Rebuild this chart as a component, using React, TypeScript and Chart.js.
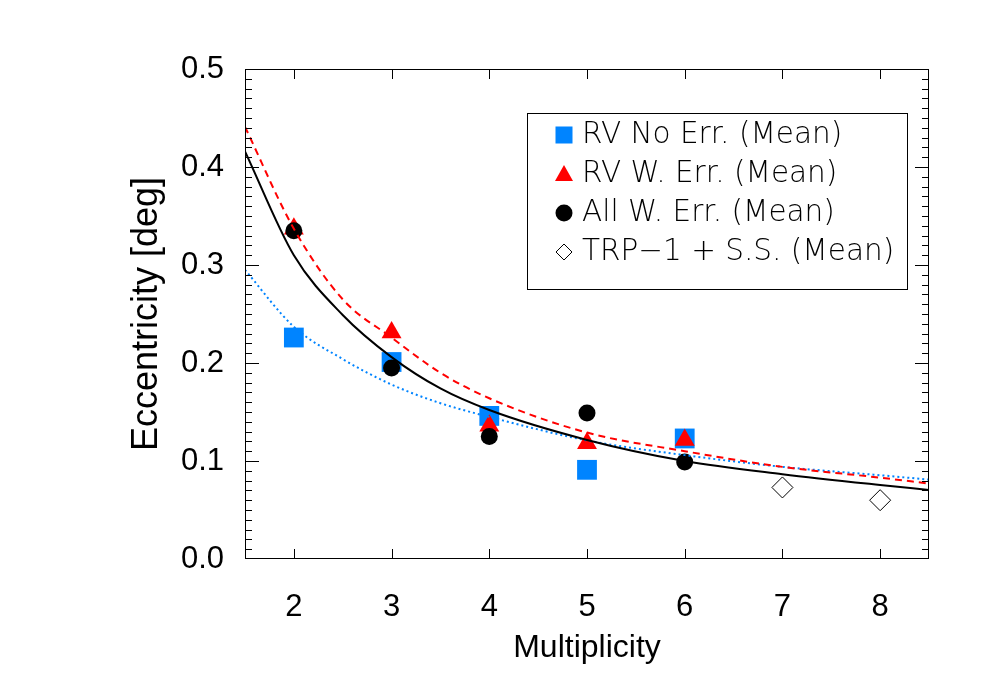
import { useEffect, useRef } from "react";
import { Chart, registerables } from "chart.js";

Chart.register(...registerables);

// multiplicity of each sample
const multiplicity = [2, 3, 4, 5, 6];
const rvNoErr = [0.226, 0.201, 0.146, 0.091, 0.123];
const rvWErr = [0.337, 0.231, 0.136, 0.118, 0.1215];
const allWErr = [0.335, 0.195, 0.125, 0.149, 0.099];

// TRP-1 + solar system
const trpMultiplicity = [7, 8];
const trpSS = [0.073, 0.06];

// fitted curves
const fitX = [1.5, 2, 2.5, 3, 3.5, 4, 5, 6, 7, 8, 8.5];
const fitAll = [0.416, 0.31, 0.249, 0.206, 0.174, 0.152, 0.1215, 0.1, 0.0865, 0.0755, 0.0705];
const fitRvErr = [0.441, 0.337, 0.265, 0.226, 0.19, 0.164, 0.129, 0.11, 0.094, 0.083, 0.077];
const fitRvNoErr = [0.295, 0.237, 0.204, 0.178, 0.159, 0.145, 0.121, 0.106, 0.094, 0.0855, 0.081];

const xTicks = [2, 3, 4, 5, 6, 7, 8];
const yTicks = [0, 0.1, 0.2, 0.3, 0.4, 0.5];
const yMinorStep = 0.01;

const legendLabels = [
  "RV No Err. (Mean)",
  "RV W. Err. (Mean)",
  "All W. Err. (Mean)",
  "TRP\u22121 + S.S. (Mean)",
];

const BLUE = "rgb(0,132,255)";
const RED = "#ff0000";

const toXY = (xs: number[], ys: number[]) => xs.map((x, i) => ({ x, y: ys[i] }));

const framePlugin = {
  id: "frameTicks",
  afterDatasetsDraw(chart: any) {
    const { ctx, chartArea: a, scales } = chart;
    const xs = scales.x;
    const ys = scales.y;
    ctx.save();
    ctx.strokeStyle = "#000";
    ctx.lineWidth = 1;
    ctx.strokeRect(a.left + 0.5, a.top + 0.5, a.right - a.left - 1, a.bottom - a.top - 1);
    ctx.beginPath();
    for (const v of xTicks) {
      const px = Math.round(xs.getPixelForValue(v)) + 0.5;
      ctx.moveTo(px, a.bottom);
      ctx.lineTo(px, a.bottom - 10);
      ctx.moveTo(px, a.top);
      ctx.lineTo(px, a.top + 10);
    }
    const n = Math.round((ys.max - ys.min) / yMinorStep);
    for (let i = 1; i < n; i++) {
      const v = ys.min + i * yMinorStep;
      const py = Math.round(ys.getPixelForValue(v)) + 0.5;
      const len = i % 10 === 0 ? 14 : 7;
      ctx.moveTo(a.left, py);
      ctx.lineTo(a.left + len, py);
      ctx.moveTo(a.right, py);
      ctx.lineTo(a.right - len, py);
    }
    ctx.stroke();

    // legend box
    const bx = a.left + 282;
    const by = a.top + 44;
    ctx.strokeRect(bx + 0.5, by + 0.5, 380, 176);
    const sx = bx + 37;
    const tx = bx + 55;
    legendLabels.forEach((label, i) => {
      const cy = by + 22 + i * 39;
      ctx.beginPath();
      if (i === 0) {
        ctx.fillStyle = BLUE;
        ctx.fillRect(sx - 8.5, cy - 8.5, 17, 17);
      } else if (i === 1) {
        ctx.fillStyle = RED;
        ctx.moveTo(sx, cy - 9);
        ctx.lineTo(sx + 9, cy + 7);
        ctx.lineTo(sx - 9, cy + 7);
        ctx.closePath();
        ctx.fill();
      } else if (i === 2) {
        ctx.fillStyle = "#000";
        ctx.arc(sx, cy, 8.5, 0, Math.PI * 2);
        ctx.fill();
      } else {
        ctx.fillStyle = "#fff";
        ctx.moveTo(sx, cy - 8);
        ctx.lineTo(sx + 8, cy);
        ctx.lineTo(sx, cy + 8);
        ctx.lineTo(sx - 8, cy);
        ctx.closePath();
        ctx.fill();
        ctx.stroke();
      }
      ctx.fillStyle = "#000";
      ctx.font = '200 29.5px "DejaVu Sans"';
      ctx.textAlign = "left";
      ctx.textBaseline = "middle";
      ctx.fillText(label, tx, cy);
    });
    ctx.restore();
  },
};

const EccentricityChart = () => {
  const chartRef = useRef<HTMLCanvasElement | null>(null);

  useEffect(() => {
    if (!chartRef.current) return;
    const ctx = chartRef.current.getContext("2d");
    if (!ctx) return;

    const chart = new Chart(ctx, {
      type: "scatter",
      data: {
        datasets: [
          {
            label: "fit all",
            data: toXY(fitX, fitAll),
            showLine: true,
            borderColor: "#000",
            borderWidth: 2,
            pointRadius: 0,
            cubicInterpolationMode: "monotone",
            order: 0,
          },
          {
            label: "fit rv err",
            data: toXY(fitX, fitRvErr),
            showLine: true,
            borderColor: RED,
            borderWidth: 2,
            borderDash: [7, 5],
            pointRadius: 0,
            cubicInterpolationMode: "monotone",
            order: 1,
          },
          {
            label: "fit rv no err",
            data: toXY(fitX, fitRvNoErr),
            showLine: true,
            borderColor: BLUE,
            borderWidth: 2,
            borderDash: [2, 3],
            pointRadius: 0,
            cubicInterpolationMode: "monotone",
            order: 2,
          },
          {
            label: legendLabels[2],
            data: toXY(multiplicity, allWErr),
            pointStyle: "circle",
            pointRadius: 8.5,
            backgroundColor: "#000",
            borderColor: "#000",
            borderWidth: 0,
            order: 3,
          },
          {
            label: legendLabels[1],
            data: toXY(multiplicity, rvWErr),
            pointStyle: "triangle",
            pointRadius: 11.5,
            backgroundColor: RED,
            borderColor: RED,
            borderWidth: 0,
            order: 4,
          },
          {
            label: legendLabels[0],
            data: toXY(multiplicity, rvNoErr),
            pointStyle: "rect",
            pointRadius: 14,
            backgroundColor: BLUE,
            borderColor: BLUE,
            borderWidth: 0,
            order: 5,
          },
          {
            label: legendLabels[3],
            data: toXY(trpMultiplicity, trpSS),
            pointStyle: "rectRot",
            pointRadius: 10.5,
            backgroundColor: "#fff",
            borderColor: "#000",
            borderWidth: 1,
            order: 6,
          },
        ],
      },
      options: {
        responsive: false,
        animation: false,
        devicePixelRatio: 1,
        events: [],
        layout: { padding: { left: 0, top: 69, right: 71, bottom: 0 } },
        plugins: {
          legend: { display: false },
          tooltip: { enabled: false },
        },
        scales: {
          x: {
            type: "linear",
            min: 1.5,
            max: 8.5,
            afterBuildTicks: (s: any) => {
              s.ticks = xTicks.map((value) => ({ value }));
            },
            afterFit: (s: any) => {
              s.height = 141;
            },
            grid: { display: false },
            border: { display: false },
            ticks: {
              autoSkip: false,
              padding: 22,
              color: "#000",
              font: { family: '"Liberation Sans"', size: 31 },
              callback: (v: any) => String(v),
            },
            title: {
              display: true,
              text: "Multiplicity",
              color: "#000",
              font: { family: '"Liberation Sans"', size: 32 },
              padding: { top: 0, bottom: 33 },
            },
          },
          y: {
            type: "linear",
            min: 0,
            max: 0.5,
            afterBuildTicks: (s: any) => {
              s.ticks = yTicks.map((value) => ({ value }));
            },
            afterFit: (s: any) => {
              s.width = 245;
            },
            grid: { display: false },
            border: { display: false },
            ticks: {
              autoSkip: false,
              padding: 13,
              color: "#000",
              font: { family: '"Liberation Sans"', size: 31 },
              callback: (v: any) => Number(v).toFixed(1),
            },
            title: {
              display: true,
              text: "Eccentricity [deg]",
              color: "#000",
              font: { family: '"Liberation Sans"', size: 36 },
              padding: { top: 125, bottom: 0 },
            },
          },
        },
      },
      plugins: [framePlugin],
    });

    return () => {
      chart.destroy();
    };
  }, []);

  return (
    <div style={{ position: "absolute", left: 0, top: 0, width: 1000, height: 700, background: "#fff" }}>
      <canvas ref={chartRef} width="1000" height="700"></canvas>
    </div>
  );
};

export default function App() {
  return <EccentricityChart />;
}
